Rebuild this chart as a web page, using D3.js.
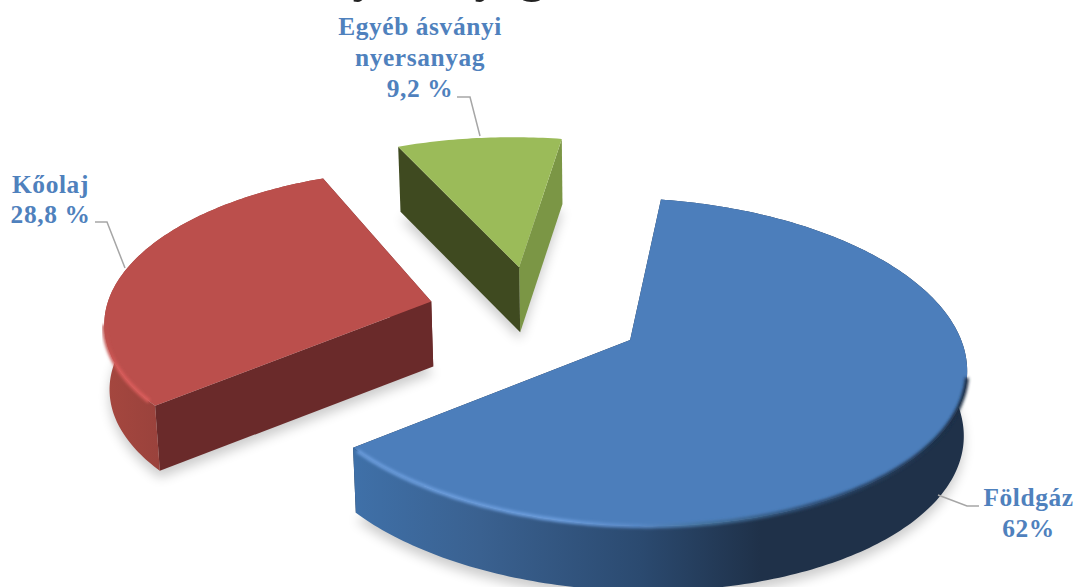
<!DOCTYPE html>
<html>
<head>
<meta charset="utf-8">
<script src="https://cdn.jsdelivr.net/npm/d3@7"></script>
<style>
  html, body { margin: 0; padding: 0; background: #fff; overflow: hidden; }
  text { font-family: "Liberation Serif", serif; font-weight: bold; }
</style>
</head>
<body>
<div id="chart"></div>
<script>
// values
const categories = ['Földgáz', 'Kőolaj', 'Egyéb ásványi nyersanyag']
const shares = [62, 28.8, 9.2]
const shareLabels = ['62%', '28,8 %', '9,2 %']

const width = 1078, height = 587

// colours of each slice
const topColors = ['#4c7ebb', '#bb4f4c', '#9bbb59']
const startFaceColors = ['#1f3149', '#6a2a2a', '#3f4a20']
const endFaceColors = ['#1f3149', '#6a2a2a', '#7b9645']

// perspective of the pie plane
const focusX = 334, focusY = 161, tilt = 0.134, shear = 9
const anchorX = 630, anchorY = 340
const originU = -0.292, originV = 0.153
const explode = 0.33, depth = 65, shrink = 0.99
// small corrections per slice, the real picture is not a perfect projection
const radiusFix = [1, 0.985, 1.03]
const apexFix = [[0, 0], [0.004, -0.005], [0, -0.018]]
const startFix = [0, -2, 0], endFix = [0, 0.5, 0]

const xScale = d3.scaleLinear().domain([-1, 1]).range([anchorX - focusX, anchorX + focusX])
const yScale = d3.scaleLinear().domain([-1, 1]).range([anchorY + focusY, anchorY - focusY])
const rad = d => d * Math.PI / 180

// plane point -> screen point, lower=true gives the bottom face
function project(u, v, lower) {
    let w = 1 + tilt * v
    let x = xScale(u / w)
    let y = yScale(v / w) + shear * u / w
    if (lower) {
        x = anchorX + (x - anchorX) * shrink
        y = y + depth
    }
    return [x, y]
}

const line = d3.line()

const pie = d3.pie().sort(null)
    .startAngle(rad(6))
    .endAngle(rad(366))
const slices = pie(shares).map(d => {
    // apex follows the true middle of the slice, the drawn edges get the fix
    d.mid = (d.startAngle + d.endAngle) / 2
    d.a0 = d.startAngle + rad(startFix[d.index])
    d.a1 = d.endAngle + rad(endFix[d.index])
    return d
})

function apexOf(d) {
    return [originU + explode * Math.sin(d.mid) + apexFix[d.index][0],
            originV + explode * Math.cos(d.mid) + apexFix[d.index][1]]
}

// rim of a slice between two angles
function rim(d, a0, a1, lower) {
    let apex = apexOf(d)
    let r = radiusFix[d.index]
    let n = Math.max(2, Math.ceil((a1 - a0) * 60))
    return d3.range(n + 1).map(i => {
        let a = a0 + (a1 - a0) * i / n
        return project(apex[0] + r * Math.sin(a), apex[1] + r * Math.cos(a), lower)
    })
}

// flat face between the apex and the rim at one angle
function cutFace(d, a) {
    let apex = apexOf(d)
    let p = rim(d, a, a + 0.001, false)[0]
    let q = rim(d, a, a + 0.001, true)[0]
    return line([project(apex[0], apex[1], false), p, q, project(apex[0], apex[1], true)]) + 'Z'
}

const svg = d3.select('#chart').append('svg')
    .attr('width', width)
    .attr('height', height)
    .style('display', 'block')

const defs = svg.append('defs')
defs.append('filter').attr('id', 'shadowBlur')
    .attr('x', '-20%').attr('y', '-20%').attr('width', '140%').attr('height', '140%')
    .append('feGaussianBlur').attr('stdDeviation', 6)
defs.append('filter').attr('id', 'edgeBlur')
    .attr('x', '-5%').attr('y', '-5%').attr('width', '110%').attr('height', '110%')
    .append('feGaussianBlur').attr('stdDeviation', 1.4)

function gradient(id, stops) {
    let g = defs.append('linearGradient').attr('id', id)
        .attr('gradientUnits', 'userSpaceOnUse')
        .attr('x1', 0).attr('x2', width).attr('y1', 0).attr('y2', 0)
    stops.forEach(s => g.append('stop').attr('offset', s[0] / width).attr('stop-color', s[1]))
}
gradient('wall0', [[355, '#3f70a8'], [480, '#3a6190'], [640, '#2b4a70'], [760, '#1f3149']])
gradient('wall1', [[105, '#a5473f'], [160, '#9a423c']])
gradient('edge0', [[355, '#6a9cdc'], [560, '#6a9cdc'], [640, '#5888c6'], [700, '#44739f'], [820, '#2b4a70'], [970, '#1a2b41']])
gradient('edge1', [[104, '#bb4f4c'], [118, '#d95c5a'], [160, '#dc5d5b']])

// soft shadow under the slices
svg.append('g').selectAll('path')
    .data(slices)
    .enter()
    .append('path')
    .attr('d', d => line([project(...apexOf(d), true)].concat(rim(d, d.a0, d.a1, true))) + 'Z')
    .attr('transform', 'translate(0,7)')
    .attr('fill', '#000')
    .attr('opacity', 0.2)
    .attr('filter', 'url(#shadowBlur)')

const groups = svg.append('g').selectAll('g')
    .data(slices)
    .enter()
    .append('g')

// straight cut faces
groups.append('path')
    .attr('d', d => cutFace(d, d.a1))
    .attr('fill', (d, i) => endFaceColors[i])
groups.append('path')
    .attr('d', d => cutFace(d, d.a0))
    .attr('fill', (d, i) => startFaceColors[i])

// outer round wall, the green slice shows only its back so it has none
groups.filter((d, i) => i < 2).append('path')
    .attr('d', d => line(rim(d, d.a0, d.a1, false)
        .concat(rim(d, d.a0, d.a1, true).reverse())) + 'Z')
    .attr('fill', (d, i) => `url(#wall${i})`)

// top face
groups.append('path')
    .attr('d', d => line([project(...apexOf(d), false)].concat(rim(d, d.a0, d.a1, false))) + 'Z')
    .attr('fill', (d, i) => topColors[i])

// bevel along the front of the rim (blue and red only)
const bevelFrom = [100, 229]
const bevelTo = [228, 258]
groups.filter((d, i) => i < 2).append('path')
    .attr('d', (d, i) => line(rim(d, rad(bevelFrom[i]), rad(bevelTo[i]), false)))
    .attr('fill', 'none')
    .attr('stroke', (d, i) => `url(#edge${i})`)
    .attr('stroke-width', 4)
    .attr('filter', 'url(#edgeBlur)')

// leader lines, from the label to the slice
const leaders = [
    [[938, 495], [967, 506], [979, 506]],
    [[95, 222], [107, 222], [125, 268]],
    [[457, 97], [470, 97], [480, 136]]
]
svg.append('g').selectAll('path')
    .data(leaders)
    .enter()
    .append('path')
    .attr('d', d => line(d))
    .attr('fill', 'none')
    .attr('stroke', '#a6a6a6')
    .attr('stroke-width', 1.5)

// labels
const labelLines = [
    [categories[0], shareLabels[0]],
    [categories[1], shareLabels[1]],
    ['Egyéb ásványi', 'nyersanyag', shareLabels[2]]
]
const labelX = [1028.5, 50.5, 420]
const labelY = [506, 193, 35]
const lineGap = [31, 30, 31]

const labels = svg.append('g').selectAll('text')
    .data(labelLines)
    .enter()
    .append('text')
    .attr('text-anchor', 'middle')
    .attr('fill', '#4f81bd')
    .attr('font-size', 25.4)
    .attr('letter-spacing', 0.6)
labels.selectAll('tspan')
    .data((d, i) => d.map((t, j) => ({ t: t, x: labelX[i], y: labelY[i] + j * lineGap[i] })))
    .enter()
    .append('tspan')
    .attr('x', d => d.x)
    .attr('y', d => d.y)
    .text(d => d.t)

// the title is cut off by the top of the picture, only these descenders show
const titleLetters = ['y', 'y', 'g']
const titleX = [365, 487, 532]
svg.append('g').selectAll('text')
    .data(titleLetters)
    .enter()
    .append('text')
    .attr('x', (d, i) => titleX[i])
    .attr('y', -9)
    .attr('text-anchor', 'middle')
    .attr('font-size', 50)
    .attr('fill', '#222')
    .text(d => d)
</script>
</body>
</html>
